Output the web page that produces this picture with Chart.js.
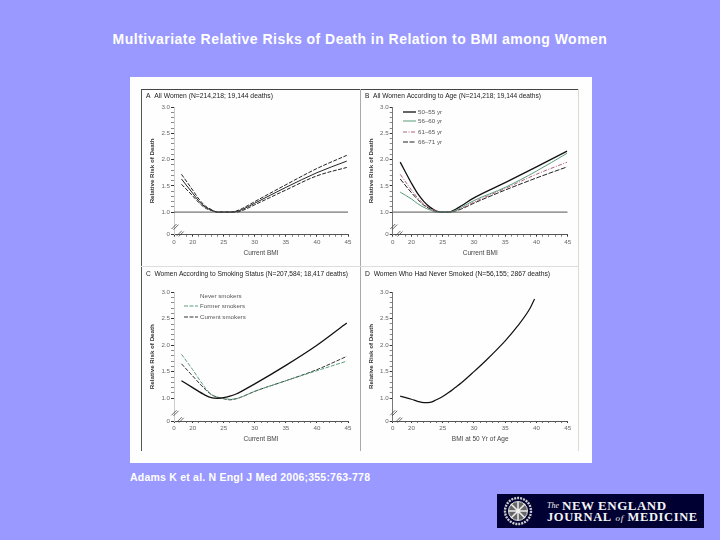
<!DOCTYPE html>
<html>
<head>
<meta charset="utf-8">
<script src="https://cdn.jsdelivr.net/npm/chart.js@4"></script>
<style>
html,body{margin:0;padding:0;width:720px;height:540px;overflow:hidden;background:#9999ff;font-family:"Liberation Sans",Arial,sans-serif}
.abs{position:absolute}
canvas{position:absolute;filter:blur(0.4px)}
#headline{left:0;top:31px;width:720px;text-align:center;color:#fff;font-weight:bold;font-size:14px;letter-spacing:.48px;white-space:nowrap}
#source{left:130px;top:471px;color:#fff;font-weight:bold;font-size:10.5px;letter-spacing:.22px;white-space:nowrap}
#sheet{left:130px;top:77px;width:462px;height:386px;background:#fefefe}
.rule{position:absolute}
#logo{left:497px;top:494px;width:207px;height:34px;background:#000033;color:#f4f4f4;font-family:"Liberation Serif",serif}
#logo div{position:absolute;white-space:nowrap}
</style>
</head>
<body>
<div class="abs" id="headline">Multivariate Relative Risks of Death in Relation to BMI among Women</div>
<div class="abs" id="sheet"></div>
<div class="rule" style="left:141px;top:88.5px;width:437px;height:1px;background:#444"></div>
<div class="rule" style="left:141px;top:89px;width:1px;height:362px;background:#555"></div>
<div class="rule" style="left:360px;top:89px;width:1px;height:362px;background:#aaa"></div>
<div class="rule" style="left:578px;top:89px;width:1px;height:362px;background:#dddccc"></div>
<div class="rule" style="left:141px;top:266px;width:437px;height:1px;background:#ddd"></div>
<canvas id="panelA" width="213" height="176" style="left:146px;top:89px"></canvas>
<canvas id="panelB" width="213" height="176" style="left:365px;top:89px"></canvas>
<canvas id="panelC" width="213" height="184" style="left:146px;top:267px"></canvas>
<canvas id="panelD" width="213" height="184" style="left:365px;top:267px"></canvas>
<div class="abs" id="source">Adams K et al. N Engl J Med 2006;355:763-778</div>
<div class="abs" id="logo">
<svg width="34" height="34" style="position:absolute;left:4px;top:0">
<circle cx="17" cy="17" r="13" fill="none" stroke="#ccc" stroke-width="2.4" stroke-dasharray="2 1"/>
<circle cx="17" cy="17" r="9.5" fill="#666" stroke="#ddd" stroke-width="1"/>
<path d="M10 10L24 24M24 10L10 24M17 8V26M8 17H26" stroke="#eee" stroke-width="1.5"/>
</svg>
<div style="left:50px;top:7px;font-size:8px;font-style:italic">The</div>
<div style="left:65px;top:4px;font-size:13px;font-weight:bold;letter-spacing:.5px">NEW ENGLAND</div>
<div style="left:50px;top:16px;font-size:12.5px;letter-spacing:.62px"><b>JOURNAL</b> <i style="font-size:9px">of</i> <b>MEDICINE</b></div>
</div>

<script>
// ---- axis tick values ("0" sits below the axis break) ----
const xBreakValue = 17;
const yBreakValue = 0.57;
const xMajorTicks = [20, 25, 30, 35, 40, 45];
const yMajorTicks = [1.0, 1.5, 2.0, 2.5, 3.0];
const xMinorTicks = [19,21,22,23,24,26,27,28,29,31,32,33,34,36,37,38,39,41,42,43,44];
const yMinorTicks = [1.1,1.2,1.3,1.4,1.6,1.7,1.8,1.9,2.1,2.2,2.3,2.4,2.6,2.7,2.8,2.9];

// ---- panel A ----
const aBmi   = [18.2, 20, 21, 22, 23, 24, 25, 26, 27, 28, 30, 35, 40, 44.8];
const aUpper = [1.72, 1.42, 1.25, 1.12, 1.05, 1.00, 1.00, 1.00, 1.02, 1.07, 1.20, 1.52, 1.83, 2.08];
const aMean  = [1.63, 1.36, 1.21, 1.10, 1.04, 1.00, 1.00, 1.00, 1.01, 1.05, 1.17, 1.47, 1.75, 1.97];
const aLower = [1.53, 1.31, 1.18, 1.08, 1.03, 1.00, 1.00, 1.00, 1.00, 1.03, 1.14, 1.42, 1.69, 1.85];

// ---- panel B ----
const bBmi    = [18.2, 20, 21, 22, 23, 24, 25, 26, 27, 28, 30, 35, 40, 44.9];
const bAge1   = [1.95, 1.55, 1.35, 1.20, 1.09, 1.02, 1.00, 1.00, 1.05, 1.12, 1.27, 1.56, 1.86, 2.16];
const bAge2   = [1.38, 1.25, 1.16, 1.09, 1.04, 1.00, 1.00, 1.00, 1.03, 1.09, 1.22, 1.47, 1.78, 2.12];
const bAge3   = [1.72, 1.42, 1.27, 1.15, 1.07, 1.02, 1.00, 1.00, 1.03, 1.07, 1.19, 1.45, 1.72, 1.95];
const bAge4   = [1.63, 1.37, 1.24, 1.13, 1.06, 1.01, 1.00, 1.00, 1.02, 1.06, 1.17, 1.42, 1.65, 1.86];
const ageLabels = ["50–55 yr", "56–60 yr", "61–65 yr", "66–71 yr"];

// ---- panel C ----
const cBmi     = [18.2, 20, 22, 23, 24, 25, 26, 27, 28, 30, 35, 40, 44.8];
const cNever   = [1.33, 1.20, 1.06, 1.01, 1.00, 1.01, 1.04, 1.08, 1.14, 1.27, 1.62, 2.00, 2.42];
const cFormer  = [1.83, 1.54, 1.20, 1.07, 1.02, 1.00, 0.98, 0.99, 1.03, 1.13, 1.33, 1.52, 1.70];
const cCurrent = [1.65, 1.42, 1.17, 1.07, 1.02, 0.99, 0.97, 0.99, 1.03, 1.13, 1.33, 1.54, 1.79];
const smokeLabels = ["Never smokers", "Former smokers", "Current smokers"];

// ---- panel D ----
const dBmi  = [18.2, 20, 21, 22, 23, 24, 25, 26, 27, 28, 30, 32, 35, 37, 39, 39.7];
const dRisk = [1.04, 0.98, 0.94, 0.915, 0.92, 0.97, 1.03, 1.11, 1.20, 1.29, 1.50, 1.72, 2.08, 2.36, 2.70, 2.87];

// ---- text ----
const titles = {
  A: "A  All Women (N=214,218; 19,144 deaths)",
  B: "B  All Women According to Age (N=214,218; 19,144 deaths)",
  C: "C  Women According to Smoking Status (N=207,584; 18,417 deaths)",
  D: "D  Women Who Had Never Smoked (N=56,155; 2867 deaths)"
};
const yLabel = "Relative Risk of Death";
const xLabelCurrent = "Current BMI";
const xLabelAt50 = "BMI at 50 Yr of Age";
const refLineX = [17, 45];
const refLineY = [1, 1];

const pts = (xs, ys) => xs.map((x, i) => ({x, y: ys[i]}));
const line = (label, xs, ys, color, width, dash, extra) => Object.assign({
  label, data: pts(xs, ys), borderColor: color, backgroundColor: color,
  borderWidth: width, borderDash: dash || [], pointRadius: 0,
  cubicInterpolationMode: 'monotone', fill: false
}, extra || {});
const refLine = () => ({label: 'Reference', data: pts(refLineX, refLineY), borderColor: '#555', borderWidth: 1, pointRadius: 0});

const breakPlugin = {
  id: 'axisBreak',
  afterDraw(chart) {
    const c = chart.ctx, s = chart.scales, x0 = s.x.left, y0 = s.y.bottom;
    const by = s.y.getPixelForValue(0.72), bx = s.x.getPixelForValue(18);
    c.save();
    c.strokeStyle = '#444'; c.lineWidth = 0.8;
    [[x0 + 1, by], [bx, y0 - 1]].forEach(([px, py]) => {
      [-1, 1].forEach(d => {
        c.beginPath();
        c.moveTo(px - 2.5 + d, py + 2.5 + d * 0.3);
        c.lineTo(px + 2.5 + d, py - 2.5 + d * 0.3);
        c.stroke();
      });
    });
    c.restore();
  }
};
const keyPlugin = {
  id: 'panelKey',
  afterDraw(chart, args, o) {
    if (!o.entries) return;
    const c = chart.ctx;
    c.save();
    c.font = '6.2px "Liberation Sans"'; c.fillStyle = '#555'; c.textBaseline = 'middle';
    o.entries.forEach((e, i) => {
      const ds = chart.data.datasets[e.dataset];
      const yy = o.top + o.rows[i];
      if (e.sample !== false) {
        c.strokeStyle = ds.borderColor; c.lineWidth = ds.borderWidth;
        c.setLineDash(ds.borderDash || []);
        c.beginPath(); c.moveTo(o.left, yy); c.lineTo(o.left + o.span, yy); c.stroke();
        c.setLineDash([]);
      }
      c.fillText(ds.label, o.left + o.span + 2, yy);
    });
    c.restore();
  }
};

function panel(id, title, xTitle, datasets, geom, axisColor, key) {
  new Chart(document.getElementById(id), {
    type: 'line',
    data: {datasets},
    plugins: [breakPlugin, keyPlugin],
    options: {
      responsive: false, animation: false, devicePixelRatio: 1,
      layout: {padding: {left: 0, right: geom.right, top: 0, bottom: 0}},
      plugins: {
        legend: {display: false}, tooltip: {enabled: false},
        title: {display: true, text: title, align: 'start', color: '#1a1a1a',
          font: {size: geom.ts, family: '"Liberation Sans"', weight: 'normal', lineHeight: 1.2},
          padding: {top: 3, bottom: geom.top - 3 - geom.ts * 1.2}},
        panelKey: key || {}
      },
      scales: {
        x: {
          type: 'linear', min: xBreakValue, max: 45,
          afterBuildTicks(s) { s.ticks = [xBreakValue].concat(xMinorTicks, xMajorTicks).sort((a, b) => a - b).map(value => ({value})); },
          afterFit(s) { s.height = geom.xh; },
          ticks: {autoSkip: false, maxRotation: 0, color: '#666', padding: 2,
            font: {size: 6.2, family: '"Liberation Sans"'},
            callback: v => v === xBreakValue ? '0' : (xMajorTicks.includes(v) ? String(v) : '')},
          grid: {display: true, drawOnChartArea: false, drawTicks: true, tickLength: 2,
            tickColor: ctx => xMajorTicks.includes(ctx.tick && ctx.tick.value) || (ctx.tick && ctx.tick.value === xBreakValue) ? '#333' : '#777'},
          border: {display: true, color: '#555', width: 1},
          title: {display: true, text: xTitle, color: '#444', font: {size: 6.5, family: '"Liberation Sans"'}, padding: {top: 3, bottom: 7.5}}
        },
        y: {
          type: 'linear', min: yBreakValue, max: 3,
          afterBuildTicks(s) { s.ticks = [yBreakValue].concat(yMinorTicks, yMajorTicks).sort((a, b) => a - b).map(value => ({value})); },
          afterFit(s) { s.width = geom.yw; },
          ticks: {autoSkip: false, color: '#666', padding: 1,
            font: {size: 6.2, family: '"Liberation Sans"'},
            callback: v => v === yBreakValue ? '0' : (yMajorTicks.includes(v) ? v.toFixed(1) : '')},
          grid: {display: true, drawOnChartArea: false, drawTicks: true, tickLength: 3,
            tickColor: ctx => yMajorTicks.includes(ctx.tick && ctx.tick.value) || (ctx.tick && ctx.tick.value === yBreakValue) ? '#333' : '#888'},
          border: {display: true, color: axisColor, width: 1},
          title: {display: true, text: yLabel, color: '#333', font: {size: 6.2, family: '"Liberation Sans"', weight: 'bold'}, padding: {top: 2.5, bottom: 1}}
        }
      }
    }
  });
}

panel('panelA', titles.A, xLabelCurrent, [
  refLine(),
  line('Upper', aBmi, aUpper, '#222', 1, [4, 1.5]),
  line('Relative risk', aBmi, aMean, '#222', 1),
  line('Lower', aBmi, aLower, '#222', 1, [4, 1.5])
], {right: 11, top: 18, xh: 30.3, yw: 28, ts: 6.75}, '#ccc');

panel('panelB', titles.B, xLabelCurrent, [
  refLine(),
  line(ageLabels[1], bBmi, bAge2, '#5a9d7a', 1),
  line(ageLabels[2], bBmi, bAge3, '#b06080', 1, [4, 1.5, 1, 1.5]),
  line(ageLabels[3], bBmi, bAge4, '#222', 1, [5, 1.5]),
  line(ageLabels[0], bBmi, bAge1, '#111', 1.3)
], {right: 10.3, top: 18, xh: 30.3, yw: 27.7, ts: 6.6}, '#777', {
  left: 38, top: 0, span: 13, rows: [23, 32, 43, 53],
  entries: [{dataset: 4}, {dataset: 1}, {dataset: 2}, {dataset: 3}]
});

panel('panelC', titles.C, xLabelCurrent, [
  line(smokeLabels[0], cBmi, cNever, '#111', 1.3),
  line(smokeLabels[1], cBmi, cFormer, '#5a9d7a', 1, [4, 1.5]),
  line(smokeLabels[2], cBmi, cCurrent, '#333', 1, [4, 1.5])
], {right: 11, top: 25.3, xh: 30, yw: 28, ts: 7.3}, '#ccc', {
  left: 38, top: 0, span: 14, rows: [29, 39, 50],
  entries: [{dataset: 0, sample: false}, {dataset: 1}, {dataset: 2}]
});

panel('panelD', titles.D, xLabelAt50, [
  line('Relative risk', dBmi, dRisk, '#111', 1.2)
], {right: 10.3, top: 25, xh: 30, yw: 27.7, ts: 6.75}, '#777');
</script>
</body>
</html>
